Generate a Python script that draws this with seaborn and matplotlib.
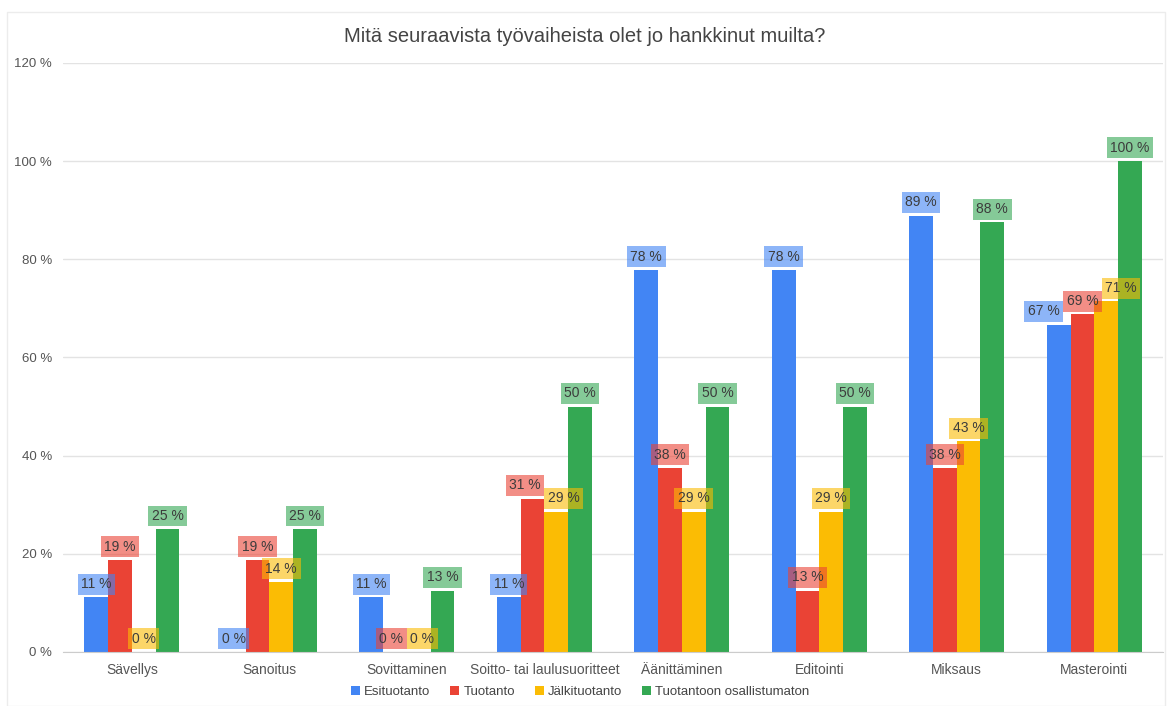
import matplotlib.pyplot as plt
import matplotlib.patches as mpatches
import pandas as pd
import seaborn as sns

# %% DATA
categories = [
    "Sävellys",
    "Sanoitus",
    "Sovittaminen",
    "Soitto- tai laulusuoritteet",
    "Äänittäminen",
    "Editointi",
    "Miksaus",
    "Masterointi",
]
series = ["Esituotanto", "Tuotanto", "Jälkituotanto", "Tuotantoon osallistumaton"]
esituotanto = [11.1, 0, 11.1, 11.1, 77.8, 77.8, 88.9, 66.7]
tuotanto = [18.75, 18.75, 0, 31.25, 37.5, 12.5, 37.5, 68.75]
jalkituotanto = [0, 14.3, 0, 28.6, 28.6, 28.6, 42.9, 71.4]
osallistumaton = [25, 25, 12.5, 50, 50, 50, 87.5, 100]
yticks = [0, 20, 40, 60, 80, 100, 120]
colors = ["#4285F4", "#EA4335", "#FBBC04", "#34A853"]

df = pd.DataFrame(
    {
        "kategoria": categories * 4,
        "sarja": [s for s in series for _ in categories],
        "arvo": esituotanto + tuotanto + jalkituotanto + osallistumaton,
    }
)

# %% PLOT
sns.set_style("white")
plt.rcParams["font.family"] = ["Liberation Sans", "DejaVu Sans"]

fig = plt.figure(figsize=(11.7, 7.06), dpi=100)
ax = fig.add_axes([0.054, 0.0765, 0.94, 0.8345])

sns.barplot(
    data=df,
    x="kategoria",
    y="arvo",
    hue="sarja",
    order=categories,
    hue_order=series,
    palette=colors,
    width=0.69,
    saturation=1,
    linewidth=0,
    ax=ax,
)

# data labels above bars
label_fs = 10
label_pad = 0.25
labels = []
for container, col in zip(ax.containers, colors):
    row = []
    for bar in container:
        h = bar.get_height()
        ann = ax.annotate(
            f"{int(h + 0.5)} %",
            xy=(bar.get_x() + bar.get_width() / 2, h),
            xytext=(0, 4.5),
            textcoords="offset points",
            ha="center",
            va="bottom",
            fontsize=label_fs,
            color="#3c3c3c",
            bbox=dict(boxstyle=f"square,pad={label_pad}", facecolor=col, alpha=0.6, edgecolor="none"),
            zorder=5,
        )
        row.append(ann)
    labels.append(row)

ax.set_ylim(0, 120)
ax.set_yticks(yticks)
ax.set_yticklabels([f"{t} %" for t in yticks])
ax.grid(axis="y", color="#e3e3e3", linewidth=1)
ax.set_axisbelow(True)
for s in ["top", "right", "left"]:
    ax.spines[s].set_visible(False)
ax.spines["bottom"].set_color("#cccccc")
ax.tick_params(axis="both", length=0, colors="#555555", labelsize=10)
ax.tick_params(axis="y", pad=8, labelsize=9.5)
ax.tick_params(axis="x", pad=8)
ax.set_xlabel("")
ax.set_ylabel("")

fig.suptitle(
    "Mitä seuraavista työvaiheista olet jo hankkinut muilta?",
    y=0.962,
    fontsize=14.5,
    color="#444444",
)

sns.move_legend(
    ax,
    "center",
    bbox_to_anchor=(0.47, -0.068),
    ncol=4,
    frameon=False,
    title=None,
    fontsize=9.5,
    handlelength=0.7,
    handleheight=0.7,
    handletextpad=0.3,
    columnspacing=1.5,
)
for t in ax.get_legend().get_texts():
    t.set_color("#444444")

# spread overlapping labels sideways within each category
fig.canvas.draw()
renderer = fig.canvas.get_renderer()
pad_px = label_pad * label_fs * fig.dpi / 72
for ci in range(len(categories)):
    boxes = [labels[si][ci].get_window_extent(renderer) for si in range(len(series))]
    shifts = [0.0] * len(series)
    for _ in range(30):
        for si in range(len(series) - 1):
            a, b = boxes[si], boxes[si + 1]
            if a.y0 - pad_px < b.y1 + pad_px and b.y0 - pad_px < a.y1 + pad_px:
                ov = (a.x1 + pad_px + shifts[si]) - (b.x0 - pad_px + shifts[si + 1])
                if ov > 0:
                    shifts[si] -= ov / 2
                    shifts[si + 1] += ov / 2
    for si in range(len(series)):
        labels[si][ci].xyann = (shifts[si] * 72 / fig.dpi, 4.5)

# faint outer frame
fig.patches.append(
    mpatches.Rectangle(
        (0.006, 0.0), 0.99, 0.983, transform=fig.transFigure,
        fill=False, edgecolor="#ececec", linewidth=1,
    )
)

fig.savefig("out.png", dpi=100)
